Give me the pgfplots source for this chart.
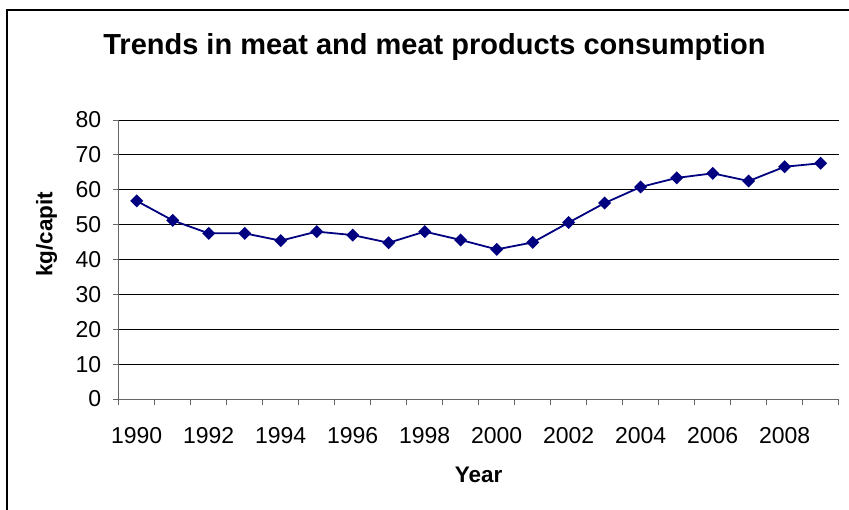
\documentclass[border=0pt]{standalone}
\usepackage{pgfplots}
\pgfplotsset{compat=1.18}
\usepackage{fontspec}
\setmainfont{Liberation Sans}

\definecolor{navyline}{HTML}{000080}

\begin{document}
\begin{tikzpicture}
% picture frame: 849 x 510, axis box lower left at (0,0)
\useasboundingbox (-118.7bp,-111bp) rectangle (730.3bp,399bp);
\fill[white] (-118.7bp,-111bp) rectangle (730.3bp,399bp);
\draw[line width=2bp] (-111.7bp,-150bp) -- (-111.7bp,389bp) -- (800bp,389bp);
\begin{axis}[
    scale only axis,
    width=720bp, height=279bp,
    xmin=1989.5, xmax=2009.5,
    ymin=0, ymax=80,
    ytick={0,10,...,80},
    xtick={1989.5,1990.5,...,2009.5},
    xticklabels={},
    extra x ticks={1990,1992,...,2008},
    extra x tick labels={1990,1992,1994,1996,1998,2000,2002,2004,2006,2008},
    extra x tick style={major tick length=0pt, grid=none},
    axis lines=left,
    axis line style={-, black!60, line width=1bp},
    tick align=outside,
    major tick length=6bp,
    tick style={black!60, line width=1bp},
    ymajorgrids,
    grid style={black, line width=0.9bp},
    /pgf/number format/assume math mode=true,
    tick label style={font=\fontsize{23bp}{26bp}\selectfont},
    yticklabel style={anchor=east, xshift=-8bp},
    xticklabel style={anchor=base, yshift=-44bp},
    title={Trends in meat and meat products consumption},
    title style={font=\bfseries\fontsize{29bp}{33bp}\selectfont,
        at={(axis description cs:0.4386,1.215)}, anchor=base},
    xlabel={Year},
    xlabel style={font=\bfseries\fontsize{22.5bp}{26bp}\selectfont,
        at={(axis description cs:0.5,-0.3)}, anchor=base},
    ylabel={kg/capit},
    ylabel style={font=\bfseries\fontsize{22.5bp}{26bp}\selectfont,
        at={(axis description cs:-0.1,0.591)}, anchor=center, rotate=0},
]
\addplot[navyline, line width=1.8bp, mark=square*,
    mark options={rotate=45, fill=navyline, draw=navyline}, mark size=3.7bp]
coordinates {
    (1990,56.8) (1991,51.2) (1992,47.5) (1993,47.5) (1994,45.4)
    (1995,48.0) (1996,47.0) (1997,44.8) (1998,48.0) (1999,45.6)
    (2000,42.9) (2001,44.9) (2002,50.6) (2003,56.2) (2004,60.8)
    (2005,63.4) (2006,64.7) (2007,62.5) (2008,66.6) (2009,67.6)
};
\end{axis}
\end{tikzpicture}
\end{document}
